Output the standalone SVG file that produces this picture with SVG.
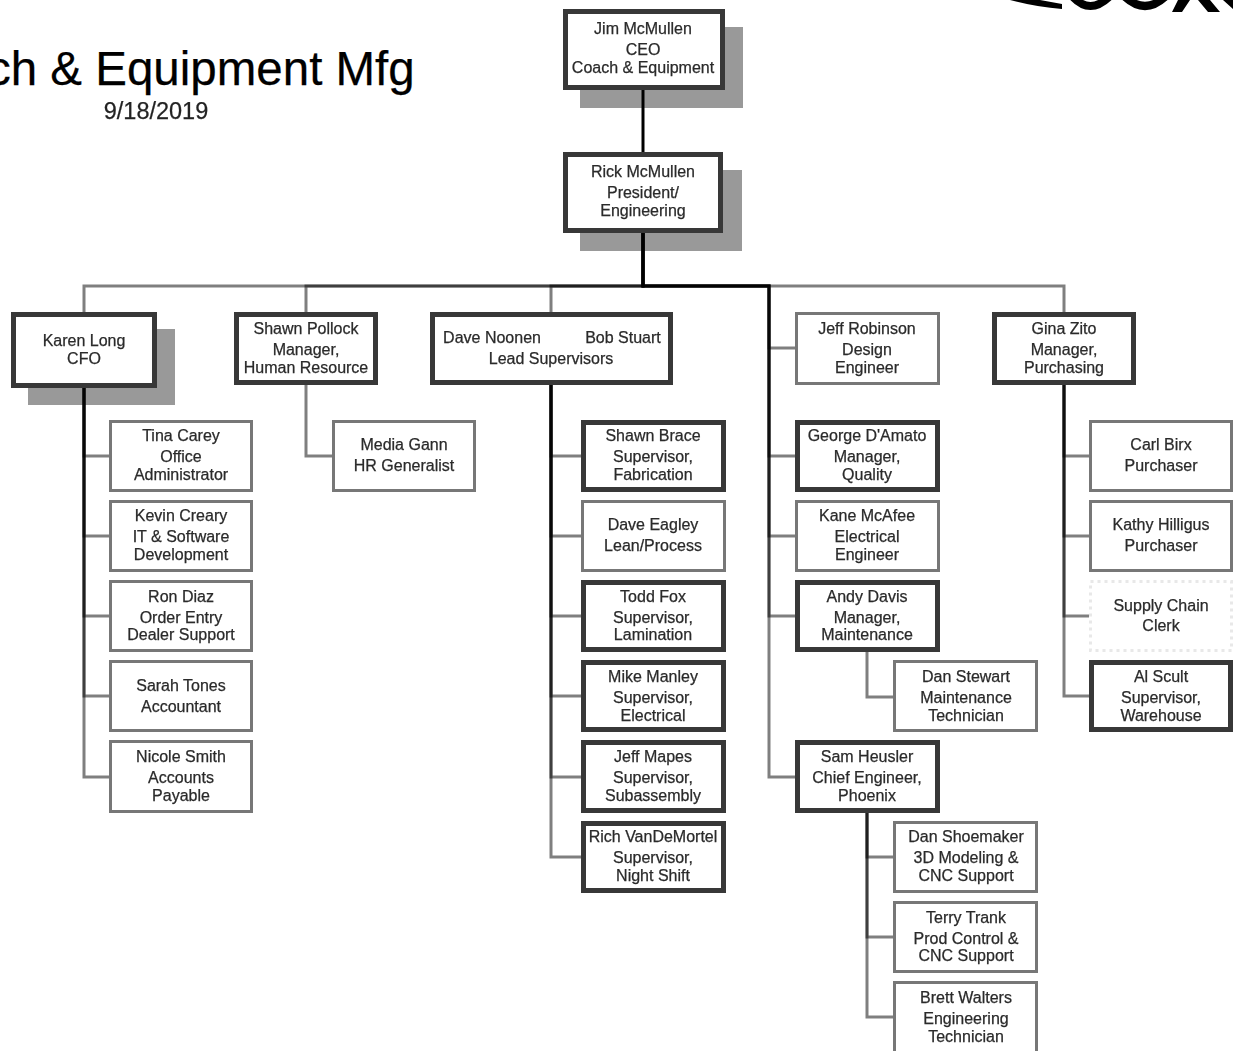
<svg xmlns="http://www.w3.org/2000/svg" width="1233" height="1051" viewBox="0 0 1233 1051">
<defs><filter id="soft" x="-5%" y="-5%" width="110%" height="110%"><feGaussianBlur stdDeviation="0.45"/></filter></defs>
<style>
text{font-family:"Liberation Sans",Arial,sans-serif;font-size:16px;fill:#2a2a2a;stroke:#2a2a2a;stroke-width:.25;text-anchor:middle;filter:url(#soft);transform:translateY(.7px)}
.title{font-size:47.5px;fill:#000;stroke:#000;text-anchor:start;filter:none;transform:none}
.date{font-size:23.5px;fill:#222;transform:none}
rect{fill:#fff}
.thin{stroke:#777;stroke-width:3}
.thick{stroke:#383838;stroke-width:5}
.ghost{stroke:#e8e8e8;stroke-width:3;stroke-dasharray:3 4}
.shadow{fill:#999;stroke:none}
.c{fill:none;stroke:#000;stroke-opacity:.5;stroke-width:3}
.logo{fill:none;stroke:#000;stroke-width:8}
</style>
<rect class="shadow" x="580" y="27" width="163" height="81"/>
<rect class="shadow" x="580" y="170" width="162" height="81"/>
<rect class="shadow" x="28" y="329" width="147" height="76"/>
<g id="header">
<text class="title" x="-13" y="85">ch &amp; Equipment Mfg</text>
<text class="date" x="156" y="119">9/18/2019</text>
</g>
<g id="logo">
<path d="M1010 0H1040L1062 4V9Q1035 7 1010 0Z" fill="#000"/>
<path class="logo" d="M1072 -4Q1090 16 1110 -4"/>
<path class="logo" d="M1124 -4Q1145 16 1166 -4"/>
<path d="M1172 12H1182L1190 0H1178ZM1198 0H1210L1220 12H1208ZM1223 0H1233V9Z" fill="#000"/>
</g>
<g id="connectors">
<path class="c" style="stroke-opacity:1" d="M643 90V152"/>
<path class="c" d="M643 233V286H84V312"/>
<path class="c" d="M643 233V286H306V312"/>
<path class="c" d="M643 233V286H551V312"/>
<path class="c" d="M643 233V286H769V348H795"/>
<path class="c" d="M643 233V286H769V456H795"/>
<path class="c" d="M643 233V286H769V536H795"/>
<path class="c" d="M643 233V286H769V616H795"/>
<path class="c" d="M643 233V286H769V777H795"/>
<path class="c" d="M643 233V286H1064V312"/>
<path class="c" d="M84 388V456H109"/>
<path class="c" d="M84 388V536H109"/>
<path class="c" d="M84 388V616H109"/>
<path class="c" d="M84 388V696H109"/>
<path class="c" d="M84 388V777H109"/>
<path class="c" d="M306 385V456H332"/>
<path class="c" d="M551 385V456H581"/>
<path class="c" d="M551 385V536H581"/>
<path class="c" d="M551 385V616H581"/>
<path class="c" d="M551 385V696H581"/>
<path class="c" d="M551 385V777H581"/>
<path class="c" d="M551 385V857H581"/>
<path class="c" d="M867 652V697H893"/>
<path class="c" d="M867 813V857H893"/>
<path class="c" d="M867 813V937H893"/>
<path class="c" d="M867 813V1017H893"/>
<path class="c" d="M1064 385V456H1089"/>
<path class="c" d="M1064 385V536H1089"/>
<path class="c" d="M1064 385V616H1089"/>
<path class="c" d="M1064 385V696H1089"/>
</g>
<g id="jim"><rect class="thick" x="565.5" y="11.5" width="157" height="76"/><text x="643" y="33">Jim McMullen</text><text x="643" y="54">CEO</text><text x="643" y="72">Coach &amp; Equipment</text></g>
<g id="rick"><rect class="thick" x="565.5" y="154.5" width="155" height="76"/><text x="643" y="176">Rick McMullen</text><text x="643" y="197">President/</text><text x="643" y="215">Engineering</text></g>
<g id="karen"><rect class="thick" x="13.5" y="314.5" width="141" height="71"/><text x="84" y="345">Karen Long</text><text x="84" y="363">CFO</text></g>
<g id="shawn-pollock"><rect class="thick" x="236.500" y="314.5" width="139" height="68"/><text x="306" y="333">Shawn Pollock</text><text x="306" y="354">Manager,</text><text x="306" y="372">Human Resource</text></g>
<g id="lead"><rect class="thick" x="432.5" y="314.5" width="238" height="68"/><text x="492" y="342">Dave Noonen</text><text x="623" y="342">Bob Stuart</text><text x="551" y="363">Lead Supervisors</text></g>
<g id="jeff-r"><rect class="thin" x="796.5" y="313.5" width="142" height="70"/><text x="867" y="333">Jeff Robinson</text><text x="867" y="354">Design</text><text x="867" y="372">Engineer</text></g>
<g id="gina"><rect class="thick" x="994.5" y="314.5" width="139" height="68"/><text x="1064" y="333">Gina Zito</text><text x="1064" y="354">Manager,</text><text x="1064" y="372">Purchasing</text></g>
<g id="tina"><rect class="thin" x="110.500" y="421.500" width="141" height="69"/><text x="181" y="440">Tina Carey</text><text x="181" y="461">Office</text><text x="181" y="479">Administrator</text></g>
<g id="kevin"><rect class="thin" x="110.500" y="501.500" width="141" height="69"/><text x="181" y="520">Kevin Creary</text><text x="181" y="541">IT &amp; Software</text><text x="181" y="559">Development</text></g>
<g id="ron"><rect class="thin" x="110.500" y="581.500" width="141" height="69"/><text x="181" y="601">Ron Diaz</text><text x="181" y="622">Order Entry</text><text x="181" y="639">Dealer Support</text></g>
<g id="sarah"><rect class="thin" x="110.500" y="661.500" width="141" height="69"/><text x="181" y="690">Sarah Tones</text><text x="181" y="711">Accountant</text></g>
<g id="nicole"><rect class="thin" x="110.500" y="741.500" width="141" height="70"/><text x="181" y="761">Nicole Smith</text><text x="181" y="782">Accounts</text><text x="181" y="800">Payable</text></g>
<g id="media"><rect class="thin" x="333.500" y="421.500" width="141" height="69"/><text x="404" y="449">Media Gann</text><text x="404" y="470">HR Generalist</text></g>
<g id="shawn-brace"><rect class="thick" x="583.500" y="422.500" width="140" height="67"/><text x="653" y="440">Shawn Brace</text><text x="653" y="461">Supervisor,</text><text x="653" y="479">Fabrication</text></g>
<g id="dave-e"><rect class="thin" x="582.500" y="501.500" width="142" height="69"/><text x="653" y="529">Dave Eagley</text><text x="653" y="550">Lean/Process</text></g>
<g id="todd"><rect class="thick" x="583.500" y="582.500" width="140" height="67"/><text x="653" y="601">Todd Fox</text><text x="653" y="622">Supervisor,</text><text x="653" y="639">Lamination</text></g>
<g id="mike"><rect class="thick" x="583.500" y="662.500" width="140" height="67"/><text x="653" y="681">Mike Manley</text><text x="653" y="702">Supervisor,</text><text x="653" y="720">Electrical</text></g>
<g id="jeff-m"><rect class="thick" x="583.500" y="742.500" width="140" height="68"/><text x="653" y="761">Jeff Mapes</text><text x="653" y="782">Supervisor,</text><text x="653" y="800">Subassembly</text></g>
<g id="rich"><rect class="thick" x="583.500" y="823.500" width="140" height="67"/><text x="653" y="841">Rich VanDeMortel</text><text x="653" y="862">Supervisor,</text><text x="653" y="880">Night Shift</text></g>
<g id="george"><rect class="thick" x="797.500" y="422.500" width="140" height="67"/><text x="867" y="440">George D'Amato</text><text x="867" y="461">Manager,</text><text x="867" y="479">Quality</text></g>
<g id="kane"><rect class="thin" x="796.500" y="501.500" width="142" height="69"/><text x="867" y="520">Kane McAfee</text><text x="867" y="541">Electrical</text><text x="867" y="559">Engineer</text></g>
<g id="andy"><rect class="thick" x="797.500" y="582.500" width="140" height="67"/><text x="867" y="601">Andy Davis</text><text x="867" y="622">Manager,</text><text x="867" y="639">Maintenance</text></g>
<g id="dan-st"><rect class="thin" x="894.500" y="661.500" width="142" height="69"/><text x="966" y="681">Dan Stewart</text><text x="966" y="702">Maintenance</text><text x="966" y="720">Technician</text></g>
<g id="sam"><rect class="thick" x="797.500" y="742.500" width="140" height="68"/><text x="867" y="761">Sam Heusler</text><text x="867" y="782">Chief Engineer,</text><text x="867" y="800">Phoenix</text></g>
<g id="dan-sh"><rect class="thin" x="894.500" y="822.500" width="142" height="69"/><text x="966" y="841">Dan Shoemaker</text><text x="966" y="862">3D Modeling &amp;</text><text x="966" y="880">CNC Support</text></g>
<g id="terry"><rect class="thin" x="894.500" y="902.500" width="142" height="69"/><text x="966" y="922">Terry Trank</text><text x="966" y="943">Prod Control &amp;</text><text x="966" y="960">CNC Support</text></g>
<g id="brett"><rect class="thin" x="894.500" y="982.500" width="142" height="70"/><text x="966" y="1002">Brett Walters</text><text x="966" y="1023">Engineering</text><text x="966" y="1041">Technician</text></g>
<g id="carl"><rect class="thin" x="1090.500" y="421.500" width="141" height="69"/><text x="1161" y="449">Carl Birx</text><text x="1161" y="470">Purchaser</text></g>
<g id="kathy"><rect class="thin" x="1090.500" y="501.500" width="141" height="69"/><text x="1161" y="529">Kathy Hilligus</text><text x="1161" y="550">Purchaser</text></g>
<g id="supply"><rect class="ghost" x="1090.500" y="581.500" width="141" height="69"/><text x="1161" y="610">Supply Chain</text><text x="1161" y="630">Clerk</text></g>
<g id="al"><rect class="thick" x="1091.500" y="662.500" width="139" height="67"/><text x="1161" y="681">Al Scult</text><text x="1161" y="702">Supervisor,</text><text x="1161" y="720">Warehouse</text></g>
</svg>
